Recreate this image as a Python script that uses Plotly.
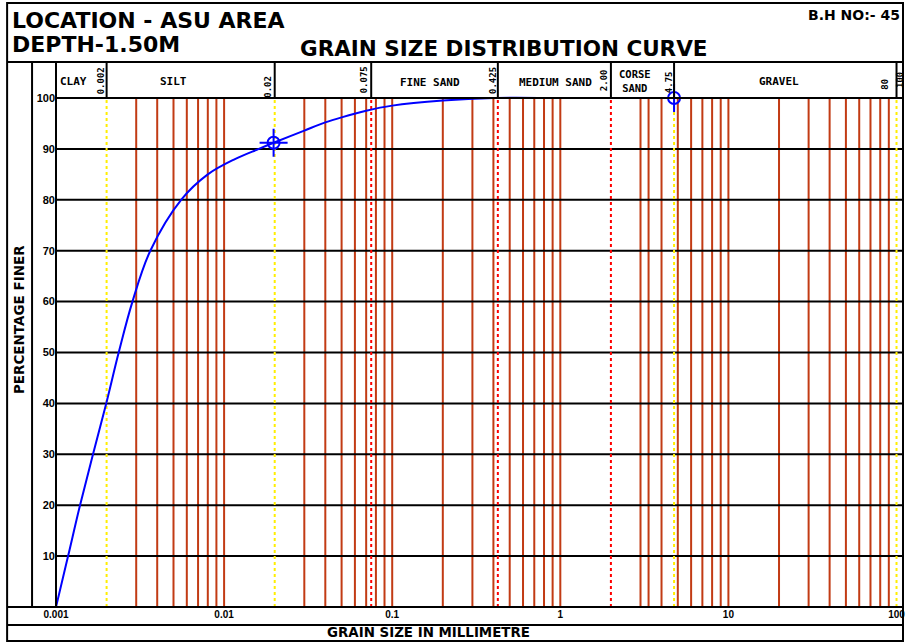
import math
import plotly.graph_objects as go

# ---------------- data ----------------
diam_mm = [0.001, 0.00118, 0.00139, 0.00166, 0.00199, 0.00236, 0.00285, 0.00364,
           0.00555, 0.0080, 0.0116, 0.0161, 0.0197, 0.03, 0.04, 0.05, 0.07, 0.1,
           0.2, 0.4, 1.0, 2.0, 4.75]
pct_finer = [0, 10, 20, 30, 40, 50, 60, 70,
             80, 85, 88, 90, 91.2, 93.6, 95.2, 96.2, 97.5, 98.5,
             99.5, 100, 100, 100, 100]

marker_d = [0.0197, 4.75]
marker_p = [91.2, 100]

brown_grid = [0.003, 0.004, 0.005, 0.006, 0.007, 0.008, 0.009, 0.01,
              0.03, 0.04, 0.05, 0.06, 0.07, 0.08, 0.09, 0.1,
              0.2, 0.3, 0.4, 0.5, 0.6, 0.7, 0.8, 0.9, 1.0,
              3, 3.35, 4, 5, 6, 7, 8, 9, 10,
              20, 30, 40, 50, 60, 70, 80, 90]
yellow_bounds = [0.002, 0.02, 4.75, 100]
red_bounds = [0.075, 0.425, 2.0]
y_grid = [10, 20, 30, 40, 50, 60, 70, 80, 90]

x_tickvals = [0.001, 0.01, 0.1, 1, 10, 100]
x_ticktext = ["0.001", "0.01", "0.1", "1", "10", "100"]
y_tickvals = [10, 20, 30, 40, 50, 60, 70, 80, 90, 100]
y_ticktext = ["10", "20", "30", "40", "50", "60", "70", "80", "90", "100"]

header_separators = [0.002, 0.02, 0.075, 0.425, 2.0, 4.75, 100]
zone_names = ["CLAY", "SILT", "FINE SAND", "MEDIUM SAND", "CORSE<br>SAND", "GRAVEL"]
boundary_labels = ["0.002", "0.02", "0.075", "0.425", "2.00", "4.75", "80", "100"]

title_lines = ["LOCATION - ASU AREA", "DEPTH-1.50M"]
chart_title = "GRAIN SIZE DISTRIBUTION CURVE"
bh_label = "B.H NO:- 45"
y_title = "PERCENTAGE FINER"
x_title = "GRAIN SIZE IN MILLIMETRE"

# ---------------- geometry ----------------
W, H = 908, 643
PL, PR, PT, PB = 56, 905, 96, 607          # plot area in pixels
XMIN = -3.0
DEC = 168.5                                # pixels per decade
XMAX = XMIN + (PR - PL) / DEC
YMAX = 100 * (PB - PT) / (PB - 98)         # 100% sits at y=98 px


def xp(px):
    return (px - PL) / (PR - PL)


def yp(py):
    return (PB - py) / (PB - PT)


def xval_p(v):
    return (math.log10(v) - XMIN) / (XMAX - XMIN)


# reference separator pixels -> log positions (to place header texts)
ref_sep_px = [56, 104, 273, 371, 502, 620, 685, 893]
ref_sep_log = [-3] + [math.log10(v) for v in header_separators]


def ref_px_to_log(px):
    for i in range(len(ref_sep_px) - 1):
        a, b = ref_sep_px[i], ref_sep_px[i + 1]
        if px <= b or i == len(ref_sep_px) - 2:
            f = (px - a) / (b - a)
            return ref_sep_log[i] + f * (ref_sep_log[i + 1] - ref_sep_log[i])


def vlines(vals):
    xs, ys = [], []
    for v in vals:
        xs += [v, v, None]
        ys += [0, 100, None]
    return xs, ys


def hlines(vals):
    xs, ys = [], []
    for v in vals:
        xs += [10 ** XMIN, 10 ** XMAX, None]
        ys += [v, v, None]
    return xs, ys


fig = go.Figure()

bx, by = vlines(brown_grid)
fig.add_trace(go.Scatter(x=bx, y=by, mode="lines", hoverinfo="skip",
                         line=dict(color="#c23b14", width=2), showlegend=False))
hx, hy = hlines(y_grid)
fig.add_trace(go.Scatter(x=hx, y=hy, mode="lines", hoverinfo="skip",
                         line=dict(color="black", width=2), showlegend=False))
yx, yy = vlines(yellow_bounds)
fig.add_trace(go.Scatter(x=yx, y=yy, mode="lines", hoverinfo="skip",
                         line=dict(color="#ffee00", width=2, dash="dot"), showlegend=False))
rx, ry = vlines(red_bounds)
fig.add_trace(go.Scatter(x=rx, y=ry, mode="lines", hoverinfo="skip",
                         line=dict(color="#ff0000", width=2, dash="dot"), showlegend=False))

fig.add_trace(go.Scatter(x=diam_mm, y=pct_finer, mode="lines",
                         line=dict(color="#0000ff", width=2, shape="spline", smoothing=1.0),
                         showlegend=False))
fig.add_trace(go.Scatter(x=marker_d, y=marker_p, mode="markers", cliponaxis=False,
                         marker=dict(symbol="circle-open", size=12, color="#0000ff",
                                     line=dict(width=2, color="#0000ff")),
                         showlegend=False))
fig.add_trace(go.Scatter(x=marker_d, y=marker_p, mode="markers", cliponaxis=False,
                         marker=dict(symbol="cross-thin-open", size=20, color="#0000ff",
                                     line=dict(width=2, color="#0000ff")),
                         showlegend=False))

# ---------------- frame shapes ----------------
shapes = []
blk = dict(color="black", width=2)


def hseg(x0, x1, y):
    shapes.append(dict(type="line", xref="paper", yref="paper",
                       x0=xp(x0), x1=xp(x1), y0=yp(y), y1=yp(y), line=blk))


def vseg(x, y0, y1):
    shapes.append(dict(type="line", xref="paper", yref="paper",
                       x0=xp(x), x1=xp(x), y0=yp(y0), y1=yp(y1), line=blk))


shapes.append(dict(type="rect", xref="paper", yref="paper",
                   x0=xp(7), x1=xp(905), y0=yp(641), y1=yp(3), line=blk))
hseg(7, 905, 62)
hseg(56, 905, 98)
hseg(7, 905, 607)
hseg(7, 905, 625)
vseg(32, 62, 607)
vseg(56, 62, 607)
for v in header_separators:
    xx = xval_p(v)
    shapes.append(dict(type="line", xref="paper", yref="paper",
                       x0=xx, x1=xx, y0=yp(62), y1=yp(98), line=blk))

# ---------------- annotations ----------------
ann = []
heavy = dict(family="DejaVu Sans", color="black", weight="bold")


def pa(text, x, y, size, xanchor="center", angle=0, fam=heavy):
    f = dict(fam)
    f["size"] = size
    ann.append(dict(text=text, xref="paper", yref="paper", x=x, y=y,
                    xanchor=xanchor, yanchor="middle", showarrow=False,
                    textangle=angle, font=f))


pa(title_lines[0], xp(10), yp(20), 22, "left")
pa(title_lines[1], xp(10), yp(44), 22, "left")
pa(chart_title, xp(505), yp(48), 21.5)
pa(bh_label, xp(904), yp(15), 14, "right")
pa(y_title, xp(19), yp(320), 13.5, angle=-90)
pa(x_title, xp(429), yp(633), 13.4)

mono = dict(family="DejaVu Sans Mono", color="black", weight="bold")
zone_px = [73, 171, 432, 562, 645, 783]
zone_py = [81.5, 81.5, 82.5, 82.5, 81.5, 82]
zone_sz = [11, 11, 11, 11, 10.5, 11]
for name, px, py, sz in zip(zone_names, zone_px, zone_py, zone_sz):
    ann.append(dict(text=name, xref="x", yref="paper", x=ref_px_to_log(px), y=yp(py),
                    xanchor="center", yanchor="middle", showarrow=False,
                    font=dict(mono, size=sz)))

bnd_px = [99, 266, 364, 497, 613, 680, 882]
bnd_py = [81, 87, 80, 81, 80, 82, 84]
for lab, px, py in zip(boundary_labels[:-1], bnd_px, bnd_py):
    ann.append(dict(text=lab, xref="x", yref="paper", x=ref_px_to_log(px), y=yp(py),
                    xanchor="center", yanchor="middle", showarrow=False, textangle=-90,
                    font=dict(mono, size=9)))
ann.append(dict(text=boundary_labels[-1], xref="paper", yref="paper", x=xp(902), y=yp(80),
                xanchor="center", yanchor="middle", showarrow=False, textangle=-90,
                font=dict(mono, size=9)))

fig.update_layout(
    width=W, height=H, autosize=False,
    margin=dict(l=PL, r=W - PR, t=PT, b=H - PB, pad=0),
    paper_bgcolor="white", plot_bgcolor="white",
    shapes=shapes, annotations=ann, showlegend=False,
    xaxis=dict(type="log", range=[XMIN, XMAX], tickvals=x_tickvals, ticktext=x_ticktext,
               showgrid=False, zeroline=False, showline=False, ticks="",
               tickfont=dict(family="Liberation Sans", size=10, color="black", weight="bold")),
    yaxis=dict(range=[0, YMAX], tickvals=y_tickvals, ticktext=y_ticktext,
               showgrid=False, zeroline=False, showline=False, ticks="",
               tickfont=dict(family="Liberation Sans", size=11, color="black", weight="bold")),
)

fig.write_html(
    "out.html",
    config={"displayModeBar": False},
    post_script="document.body.style.margin='0';document.body.style.padding='0';"
                "document.documentElement.style.overflow='hidden';",
)
